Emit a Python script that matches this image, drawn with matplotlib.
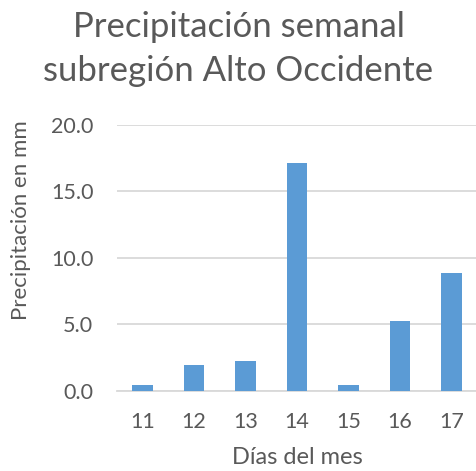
import numpy as np
import matplotlib.pyplot as plt

plt.rcParams['font.family'] = ['Lato', 'DejaVu Sans']

dias = ['11', '12', '13', '14', '15', '16', '17']
precip = [0.43, 1.93, 2.25, 17.15, 0.48, 5.25, 8.88]

gray = '#595959'
fig = plt.figure(figsize=(4.77, 4.71), dpi=100)
ax = fig.add_axes([117/477, 1 - 391/471, 360/477, (391 - 124.7)/471])

x = np.arange(len(dias))
ax.bar(x, precip, width=0.4, color='#5b9bd5', zorder=3)
ax.set_xlim(-0.5, len(dias) - 0.5)
ax.set_ylim(0, 20)
ax.set_yticks([0, 5, 10, 15, 20])
ax.set_yticklabels(['%.1f' % v for v in [0, 5, 10, 15, 20]])
ax.set_xticks(x)
ax.set_xticklabels(dias)
ax.yaxis.grid(True, color='#d9d9d9', linewidth=1.3, zorder=0)
for s in ['top', 'right', 'left']:
    ax.spines[s].set_visible(False)
ax.spines['bottom'].set_color('#d9d9d9')
ax.spines['bottom'].set_linewidth(1.3)
ax.tick_params(axis='both', length=0, labelsize=15.5, colors=gray)
ax.tick_params(axis='x', pad=15)
ax.tick_params(axis='y', pad=17)

ax.set_xlabel('Días del mes', fontsize=17, color=gray, labelpad=11)
ax.set_ylabel('Precipitación en mm', fontsize=16, color=gray)
# label sits a bit above the axes centre in the original
ax.yaxis.set_label_coords((31 - 117) / 360, (391 - 220) / (391 - 124.7))
fig.text(0.5, 0.976, 'Precipitación semanal\nsubregión Alto Occidente',
         ha='center', va='top', fontsize=25, color=gray, linespacing=1.45)

fig.savefig('out.png', dpi=100)
